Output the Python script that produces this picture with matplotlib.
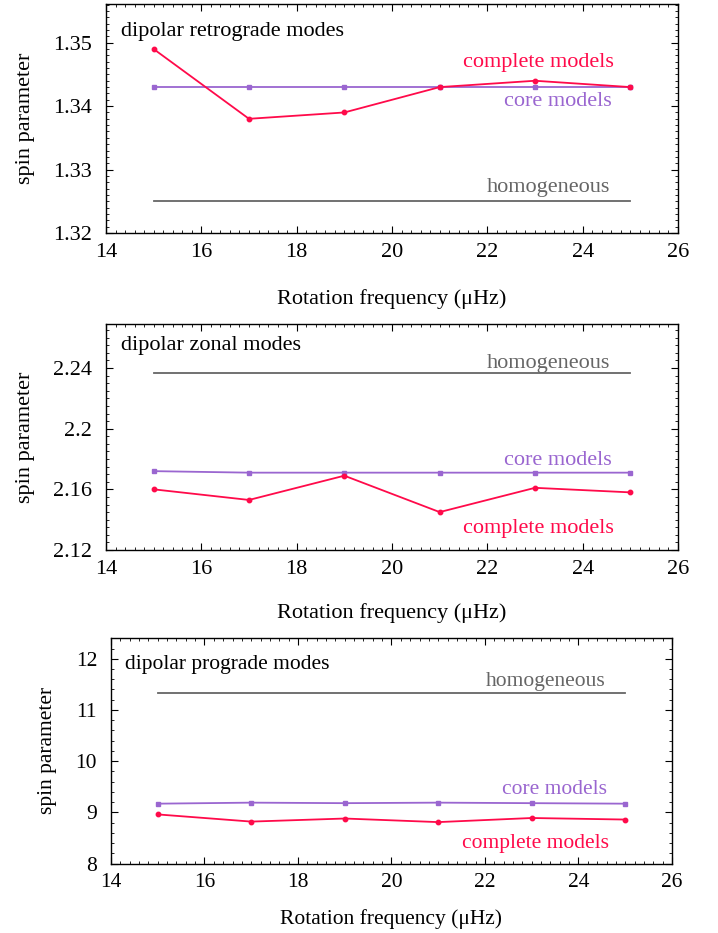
import matplotlib
matplotlib.use("Agg")
import matplotlib.pyplot as plt
from matplotlib.ticker import MultipleLocator, AutoMinorLocator

plt.rcParams['font.family'] = ['Liberation Serif', 'DejaVu Serif']
plt.rcParams['mathtext.fontset'] = 'stix'

# rotation frequency of the models (muHz)
freq = [15, 17, 19, 21, 23, 25]

# dipolar retrograde modes
retro_complete = [1.349, 1.338, 1.339, 1.343, 1.344, 1.343]
retro_core = [1.343, 1.343, 1.343, 1.343, 1.343, 1.343]
retro_homog = [1.325, 1.325]

# dipolar zonal modes
zonal_complete = [2.160, 2.153, 2.169, 2.145, 2.161, 2.158]
zonal_core = [2.172, 2.171, 2.171, 2.171, 2.171, 2.171]
zonal_homog = [2.2365, 2.2365]

# dipolar prograde modes
pro_complete = [8.96, 8.82, 8.88, 8.81, 8.89, 8.86]
pro_core = [9.17, 9.19, 9.18, 9.19, 9.18, 9.17]
pro_homog = [11.33, 11.33]

homog_x = [15, 25]

RED = '#ff0a4a'
PURPLE = '#9a66d0'
GREY = '#666666'

fig = plt.figure(figsize=(7.18, 9.33), dpi=100)

panels = [
    dict(rect=[0.1476, 0.7503, 0.7967, 0.2454], title='dipolar retrograde modes',
         comp=retro_complete, core=retro_core, homog=retro_homog,
         ylim=(1.32, 1.3561), major=0.01, minor=10, fmt='%.2f',
         title_y=1.3517, comp_y=1.3469, core_y=1.3408, homog_y=1.3271,
         ylab_x=-0.14, xlab_y=-0.29, fs=16),
    dict(rect=[0.1476, 0.4105, 0.7967, 0.2422], title='dipolar zonal modes',
         comp=zonal_complete, core=zonal_core, homog=zonal_homog,
         ylim=(2.12, 2.269), major=0.04, minor=8, fmt=None,
         title_y=2.2551, comp_y=2.1343, core_y=2.1793, homog_y=2.2432,
         ylab_x=-0.14, xlab_y=-0.278, fs=16),
    dict(rect=[0.1546, 0.0744, 0.7813, 0.2415], title='dipolar prograde modes',
         comp=pro_complete, core=pro_core, homog=pro_homog,
         ylim=(8, 12.4), major=1, minor=5, fmt='%d',
         title_y=11.88, comp_y=8.40, core_y=9.44, homog_y=11.56,
         ylab_x=-0.114, xlab_y=-0.246, fs=15.5),
]

for p in panels:
    ax = fig.add_axes(p['rect'])
    fs = p['fs']
    ax.plot(homog_x, p['homog'], color=GREY, lw=1.3)
    ax.plot(freq, p['core'], color=PURPLE, lw=1.3, marker='s', ms=3.2)
    ax.plot(freq, p['comp'], color=RED, lw=1.3, marker='o', ms=3.2)

    ax.set_xlim(14, 26)
    ax.set_ylim(*p['ylim'])
    ax.xaxis.set_major_locator(MultipleLocator(2))
    ax.xaxis.set_minor_locator(AutoMinorLocator(10))
    ax.yaxis.set_major_locator(MultipleLocator(p['major']))
    ax.yaxis.set_minor_locator(AutoMinorLocator(p['minor']))
    if p['fmt']:
        ax.yaxis.set_major_formatter(plt.FormatStrFormatter(p['fmt']))
    else:
        ax.yaxis.set_major_formatter(plt.FuncFormatter(lambda v, pos: ('%.2f' % v).rstrip('0').rstrip('.')))

    ax.tick_params(which='both', direction='in', top=True, right=True, labelsize=fs)
    ax.tick_params(which='major', length=5, width=0.8)
    ax.tick_params(which='minor', length=2.5, width=0.6)
    ax.tick_params(axis='x', pad=7)
    ax.tick_params(axis='y', pad=10)
    for s in ax.spines.values():
        s.set_linewidth(1.0)

    ax.set_xlabel('Rotation frequency (μHz)', fontsize=fs)
    ax.xaxis.set_label_coords(0.5, p['xlab_y'])
    ax.xaxis.label.set_va('center')
    ax.set_ylabel('spin parameter', fontsize=fs)
    ax.yaxis.set_label_coords(p['ylab_x'], 0.5)
    ax.yaxis.label.set_va('center')

    ax.text(14.31, p['title_y'], p['title'], fontsize=fs, va='center', ha='left', color='black')
    ax.text(24.65, p['comp_y'], 'complete models', fontsize=fs, va='center', ha='right', color=RED)
    ax.text(24.62, p['core_y'], 'core models', fontsize=fs, va='center', ha='right', color=PURPLE)
    ax.text(24.58, p['homog_y'], 'homogeneous', fontsize=fs, va='center', ha='right', color=GREY)

fig.savefig('out.png', dpi=100)
